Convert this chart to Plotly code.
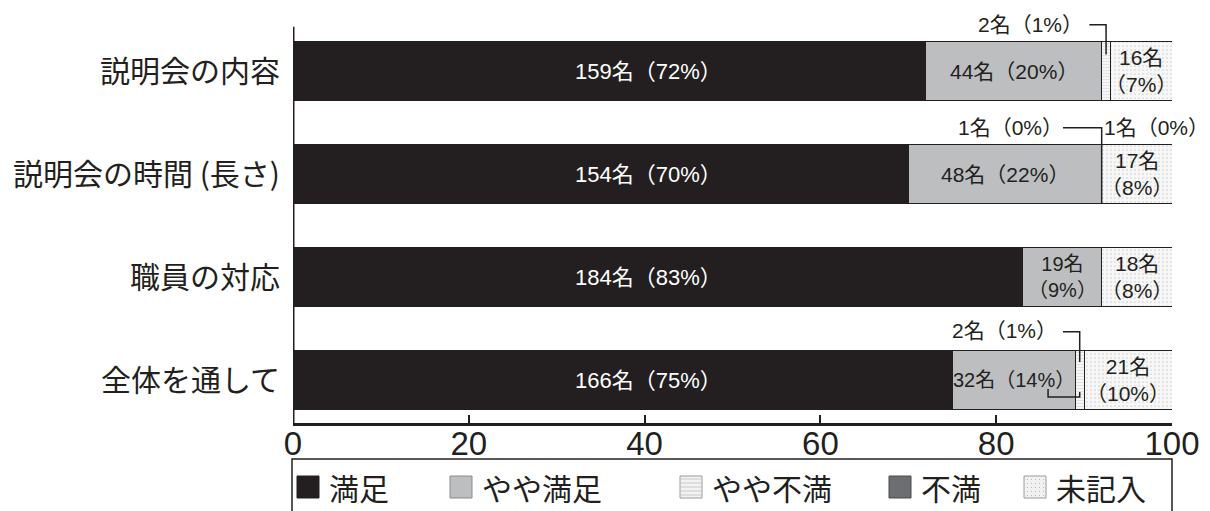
import plotly.graph_objects as go

# ---- data -------------------------------------------------------------
categories = ["説明会の内容", "説明会の時間 (長さ)", "職員の対応", "全体を通して"]
series = ["満足", "やや満足", "やや不満", "不満", "未記入"]

# respondents per answer (total 221 for every item)
count_satisfied = [159, 154, 184, 166]
count_somewhat_satisfied = [44, 48, 19, 32]
count_somewhat_unsatisfied = [2, 1, 0, 2]
count_unsatisfied = [0, 1, 0, 0]
count_blank = [16, 17, 18, 21]

# percentages as printed in the labels
pct_satisfied = [72, 70, 83, 75]
pct_somewhat_satisfied = [20, 22, 9, 14]
pct_somewhat_unsatisfied = [1, 0, 0, 1]
pct_unsatisfied = [0, 0, 0, 0]
pct_blank = [7, 8, 8, 10]

x_ticks = [0, 20, 40, 60, 80, 100]

pcts = [pct_satisfied, pct_somewhat_satisfied, pct_somewhat_unsatisfied,
        pct_unsatisfied, pct_blank]

# ---- styling ------------------------------------------------------------
INK = "#231f20"
JP = "Noto Sans CJK JP"
MIXED = "Liberation Sans, Noto Sans CJK JP"
fills = [
    dict(color=INK),
    dict(color="#bcbec0"),
    dict(color="#f4f4f4", pattern=dict(shape="-", fgcolor="#cdcdcd", bgcolor="#f6f6f6",
                                        size=3, solidity=0.35)),
    dict(color="#6d6e71"),
    dict(color="#f4f4f4", pattern=dict(shape=".", fgcolor="#b0b0b0", bgcolor="#f7f7f7",
                                        size=4, solidity=0.15)),
]

fig = go.Figure()
for name, vals, fill in zip(series, pcts, fills):
    fig.add_trace(go.Bar(
        y=categories, x=vals, name=name, orientation="h", width=0.57,
        marker=dict(**fill, line=dict(color=INK, width=1)),
        showlegend=False, hoverinfo="skip",
    ))

annotations = []
shapes = []


def label(x, y, text, color=INK, size=21, xanchor="center"):
    annotations.append(dict(x=x, y=y, xref="x", yref="y", text=text, showarrow=False,
                            xanchor=xanchor, yanchor="middle", borderpad=0,
                            font=dict(family=MIXED, size=size, color=color)))


def fmt(c, p, two_lines=False):
    sep = "<br>" if two_lines else ""
    return f"{c}名{sep}（{p}%）"


for i in range(len(categories)):
    cum = [0]
    for s in range(len(series)):
        cum.append(cum[-1] + pcts[s][i])

    # 満足: labels set in a common column inside the black bars
    label(40.5, i, fmt(count_satisfied[i], pct_satisfied[i]), color="white", size=22)

    # やや満足 (narrow segments get a slightly smaller or two-line label)
    p = pct_somewhat_satisfied[i]
    mid = (cum[1] + cum[2]) / 2
    label(mid, i, fmt(count_somewhat_satisfied[i], p, two_lines=p < 12),
          size=20 if p < 16 else 21)

    # 未記入
    mid = (cum[4] + cum[5]) / 2
    label(mid, i, fmt(count_blank[i], pct_blank[i], two_lines=True))


# leader lines for the thin segments
def line_path(points, width=1.5):
    d = "M " + " L ".join(f"{x},{y}" for x, y in points)
    shapes.append(dict(type="path", path=d, xref="x", yref="y",
                       line=dict(color=INK, width=width), layer="above"))


# 説明会の内容: やや不満 2名
i = 0
c = pct_satisfied[i] + pct_somewhat_satisfied[i] + pct_somewhat_unsatisfied[i] / 2
label(c - 2.5, i - 0.455, fmt(count_somewhat_unsatisfied[i], pct_somewhat_unsatisfied[i]),
      xanchor="right")
line_path([(c - 1.9, i - 0.45), (c, i - 0.45), (c, i - 0.16)])

# 説明会の時間（長さ）: やや不満 1名 / 不満 1名
i = 1
c = pct_satisfied[i] + pct_somewhat_satisfied[i]
label(c - 4.3, i - 0.455, fmt(count_somewhat_unsatisfied[i], pct_somewhat_unsatisfied[i]),
      xanchor="right")
label(c + 0.2, i - 0.455, fmt(count_unsatisfied[i], pct_unsatisfied[i]), xanchor="left")
line_path([(c - 4.4, i - 0.45), (c, i - 0.45), (c, i + 0.285)])

# 全体を通して: やや不満 2名
i = 3
c = pct_satisfied[i] + pct_somewhat_satisfied[i] + pct_somewhat_unsatisfied[i] / 2
label(c - 2.5, i - 0.485, fmt(count_somewhat_unsatisfied[i], pct_somewhat_unsatisfied[i]),
      xanchor="right")
line_path([(c - 1.9, i - 0.47), (c, i - 0.47), (c, i - 0.175)])
line_path([(c - 3.6, i + 0.087), (c - 3.6, i + 0.165), (c, i + 0.165), (c, i + 0.117)])

# y axis line, starting just above the first bar
Y_TOP, Y_BOTTOM = -0.43, 3.417
shapes.append(dict(type="line", xref="x", yref="y", x0=0, x1=0, y0=Y_TOP, y1=Y_BOTTOM,
                   line=dict(color=INK, width=3), layer="above"))

# ---- legend box drawn in paper space ---------------------------------------
PLOT_L, PLOT_R, PLOT_T, PLOT_B = 293, 1172, 12, 423


def px(x):
    return (x - PLOT_L) / (PLOT_R - PLOT_L)


def py(y):
    return (PLOT_B - y) / (PLOT_B - PLOT_T)


shapes.append(dict(type="rect", xref="paper", yref="paper",
                   x0=px(292), x1=px(1172), y0=py(530), y1=py(459),
                   line=dict(color=INK, width=1.5), fillcolor="white", layer="below"))

swatch_left = [297, 450, 680, 889, 1024]
swatch_fill = [INK, "#bcbec0", "#f3f3f3", "#6d6e71", "#f1f1f1"]
swatch_line = [INK, "#8a8a8a", "#9a9a9a", "#4a4a4a", "#9a9a9a"]
for name, x0, fc, lc in zip(series, swatch_left, swatch_fill, swatch_line):
    shapes.append(dict(type="rect", xref="paper", yref="paper",
                       x0=px(x0), x1=px(x0 + 22), y0=py(498), y1=py(476),
                       line=dict(color=lc, width=1), fillcolor=fc))
    annotations.append(dict(xref="paper", yref="paper", x=px(x0 + 30), y=py(487),
                            text=name, showarrow=False, xanchor="left", yanchor="middle",
                            font=dict(family=JP, size=30, color=INK)))
# stripes inside the やや不満 swatch, dots inside the 未記入 swatch
for k in range(5):
    yy = 479 + k * 4
    shapes.append(dict(type="line", xref="paper", yref="paper",
                       x0=px(681), x1=px(701), y0=py(yy), y1=py(yy),
                       line=dict(color="#c8c8c8", width=1)))
for r in range(5):
    for q in range(5):
        xx, yy = 1027 + q * 4, 479 + r * 4
        shapes.append(dict(type="rect", xref="paper", yref="paper",
                           x0=px(xx), x1=px(xx + 1), y0=py(yy + 1), y1=py(yy),
                           line=dict(width=0), fillcolor="#b8b8b8"))

fig.update_layout(
    width=1210, height=511,
    margin=dict(l=PLOT_L, r=1210 - PLOT_R, t=PLOT_T, b=511 - PLOT_B),
    paper_bgcolor="white", plot_bgcolor="white",
    barmode="stack",
    annotations=annotations, shapes=shapes,
    xaxis=dict(range=[0, 100], tickvals=x_ticks, ticks="inside", ticklen=8, tickwidth=2,
               tickcolor=INK, showline=True, linewidth=3, linecolor=INK,
               showgrid=False, zeroline=False, automargin=False, ticklabelstandoff=-11,
               tickfont=dict(family="Liberation Sans", size=33, color=INK)),
    yaxis=dict(categoryorder="array", categoryarray=categories,
               range=[Y_BOTTOM, -0.573], showline=False,
               ticks="", showgrid=False, zeroline=False, ticklabelstandoff=12,
               automargin=False,
               tickfont=dict(family=JP, size=30, color=INK)),
    showlegend=False,
)

fig.write_html("out.html")
